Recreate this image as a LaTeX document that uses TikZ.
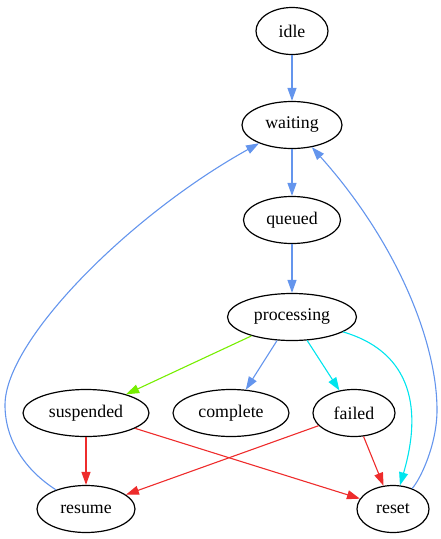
\documentclass[tikz,border=0pt]{standalone}
\usepackage{fontspec}
\setmainfont{Liberation Serif}
\usetikzlibrary{shapes.geometric,arrows.meta}
\definecolor{eblue}{HTML}{6495ED}
\definecolor{egreen}{HTML}{76EE00}
\definecolor{ecyan}{HTML}{00E5EE}
\definecolor{ered}{HTML}{EE2C2C}
\begin{document}
\begin{tikzpicture}[x=1pt,y=-1pt,
  st/.style={ellipse,draw=black,line width=1.2pt,inner sep=0pt,minimum height=47pt,
    font=\fontsize{17.8}{20}\selectfont},
  edge/.style={line width=1.1pt,-{Triangle[length=13pt,width=9pt]}}]
\useasboundingbox (0,0) rectangle (441,539);
\node[st,minimum width=72pt] (idle) at (292,31) {idle};
\node[st,minimum width=100pt] (waiting) at (292,125) {waiting};
\node[st,minimum width=97pt] (queued) at (292,220) {queued};
\node[st,minimum width=129pt] (processing) at (292,317) {processing};
\node[st,minimum width=126pt] (suspended) at (86,413) {suspended};
\node[st,minimum width=116pt] (complete) at (231,413) {complete};
\node[st,minimum width=82pt] (failed) at (354,413) {failed};
\node[st,minimum width=98pt] (resume) at (86,509) {resume};
\node[st,minimum width=72pt] (reset) at (393,509) {reset};

\draw[edge,eblue] (idle) -- (waiting);
\draw[edge,eblue] (waiting) -- (queued);
\draw[edge,eblue] (queued) -- (processing);
\draw[edge,egreen] (processing) -- (suspended);
\draw[edge,eblue] (processing) -- (complete);
\draw[edge,ecyan] (processing) -- (failed);
\draw[edge,ecyan] (processing) .. controls (405,350) and (425,400) .. (reset);
\draw[edge,ered] (suspended) -- (resume);
\draw[edge,ered] (suspended) -- (reset);
\draw[edge,ered] (failed) -- (resume);
\draw[edge,ered] (failed) -- (reset);
\draw[edge,eblue] (resume) .. controls (25,470) and (5,440) .. (5,405)
  .. controls (5,340) and (130,215) .. (waiting);
\draw[edge,eblue] (reset) .. controls (420,480) and (437,445) .. (437,410)
  .. controls (437,340) and (395,240) .. (waiting);
\end{tikzpicture}
\end{document}
